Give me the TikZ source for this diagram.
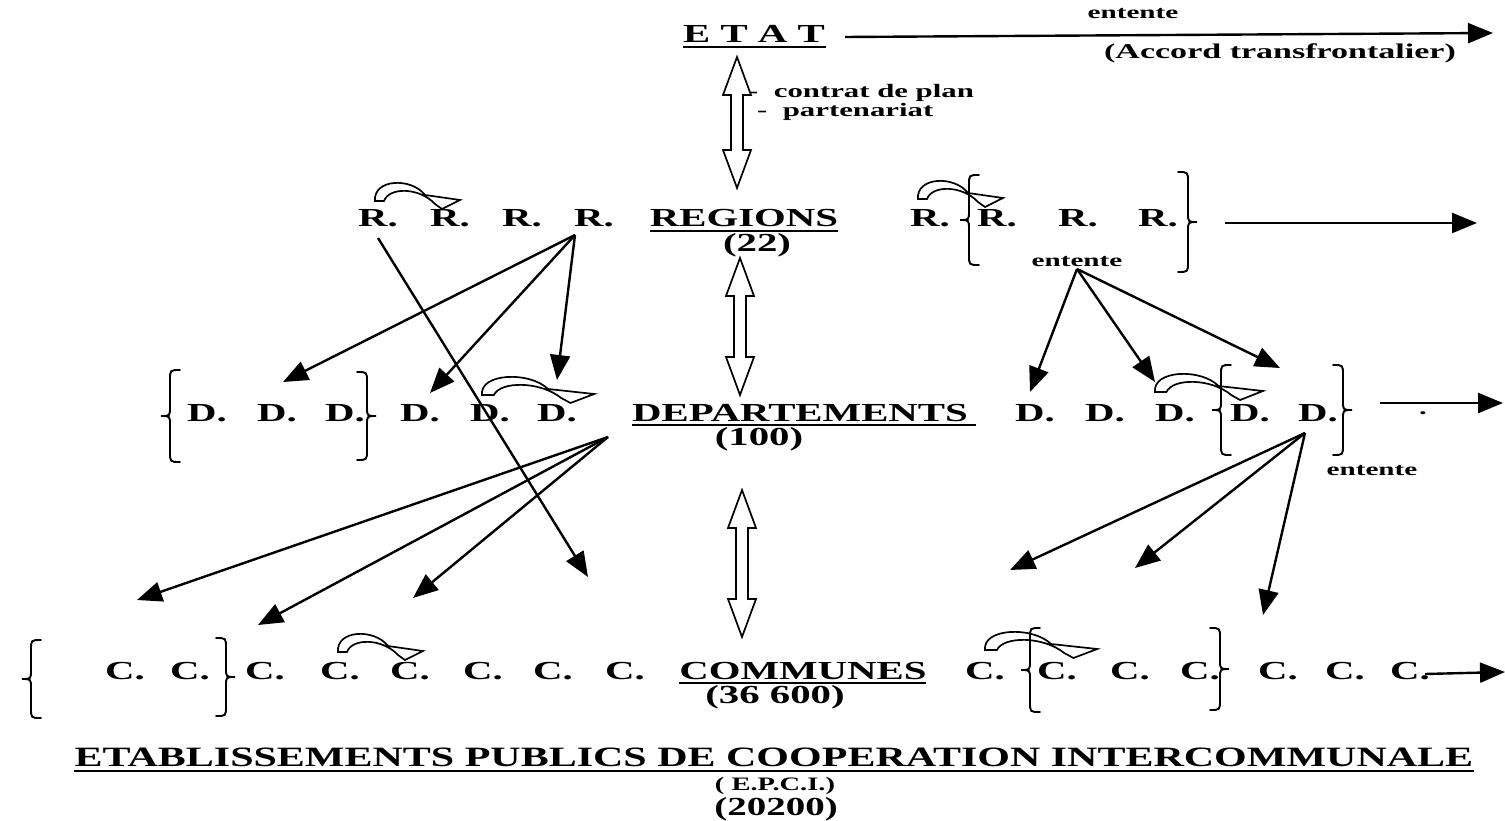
\documentclass[tikz,border=0pt]{standalone}
\usepackage{fontspec}
\setmainfont{Liberation Serif}
\newfontfamily\mainf{Liberation Serif}[FakeStretch=1.57]
\newfontfamily\smallf{Liberation Serif}[FakeStretch=1.62]
\newfontfamily\botf{Liberation Serif}[FakeStretch=1.5]
\usetikzlibrary{arrows.meta}
\tikzset{
  lbl/.style={inner sep=0pt, anchor=base, font=\mainf\bfseries\fontsize{26}{30}\selectfont},
  small/.style={inner sep=0pt, anchor=base, font=\smallf\bfseries\fontsize{19}{22}\selectfont},
  mid/.style={inner sep=0pt, anchor=base, font=\smallf\bfseries\fontsize{21}{24}\selectfont},
  tiny/.style={inner sep=0pt, anchor=base, font=\smallf\bfseries\fontsize{18}{21}\selectfont},
  bot/.style={inner sep=0pt, anchor=base, font=\botf\bfseries\fontsize{28}{32}\selectfont},
  botnum/.style={inner sep=0pt, anchor=base, font=\botf\bfseries\fontsize{26}{30}\selectfont},
  botsmall/.style={inner sep=0pt, anchor=base, font=\botf\bfseries\fontsize{19}{22}\selectfont},
  arr/.style={line width=2.4pt, -{Triangle[length=25pt,width=20pt]}},
  brc/.style={line width=1.9pt, line cap=round},
  ul/.style={line width=1.9pt},
  hollow/.style={line width=1.7pt, fill=white, line join=miter},
}
% hollow double-headed vertical arrow: x, ytop, ybottom
\newcommand\hollowv[3]{%
  \draw[hollow] (#1,#2) -- ({#1+14},{#2+38}) -- ({#1+6},{#2+38}) -- ({#1+6},{#3-38})
    -- ({#1+14},{#3-38}) -- (#1,#3) -- ({#1-14},{#3-38}) -- ({#1-6},{#3-38})
    -- ({#1-6},{#2+38}) -- ({#1-14},{#2+38}) -- cycle;}
% hollow curved arrow: x, y (tail), xscale
\newcommand\curvarr[3]{%
  \begin{scope}[shift={(#1,#2)}, xscale=#3]
    \draw[hollow] (0,0) .. controls (-2,-22) and (36,-24) .. (50,-6) -- (85,-1) -- (67,8) -- (60,3)
      .. controls (44,-14) and (14,-14) .. (9,0) -- cycle;
  \end{scope}}
% tall brace: x of stem, ytop, ybottom, direction (-1 for {, +1 for })
\newcommand\vbrace[4]{%
  \draw[brc] ({#1-(#4)*10},#2) .. controls (#1,#2) .. (#1,{#2+10})
    -- (#1,{(#2+#3)/2-9}) .. controls (#1,{(#2+#3)/2}) .. ({#1+(#4)*9},{(#2+#3)/2})
    .. controls (#1,{(#2+#3)/2}) .. (#1,{(#2+#3)/2+9})
    -- (#1,{#3-10}) .. controls (#1,#3) .. ({#1-(#4)*10},#3);}
\begin{document}
\begin{tikzpicture}[x=1pt,y=-1pt]
\useasboundingbox (0,0) rectangle (1505,821);

% ---------- ETAT ----------
\node[lbl] (etat) at (754,43) {E T A T};
\draw[ul] (683,47) -- (826,47);
\node[tiny] (ent0) at (1133,19) {entente};
\node[mid] (accord) at (1280,59) {(Accord transfrontalier)};
\coordinate (etatS) at (845,37);
\coordinate (etatE) at (1493,33);
\draw[arr] (etatS) -- (etatE);
\node[small, anchor=base west] (cp) at (748,98) {-\ \ contrat de plan};
\node[small, anchor=base west] (pa) at (757,117) {-\ \ partenariat};

% ---------- double arrows ----------
\hollowv{737}{57}{188}
\hollowv{740}{258}{395}
\hollowv{742}{490}{637}

% ---------- curved arrows ----------
\curvarr{375}{201}{1}
\curvarr{918}{199}{1}
\curvarr{482}{395}{1.32}
\curvarr{1155}{392}{1.27}
\curvarr{338}{652}{1}
\curvarr{985}{650}{1.32}

% ---------- REGIONS row ----------
\node[lbl] (r1) at (378,227) {R.};
\node[lbl] (r2) at (450,227) {R.};
\node[lbl] (r3) at (522,227) {R.};
\node[lbl] (r4) at (594,227) {R.};
\node[lbl] (regions) at (744,227) {REGIONS};
\draw[ul] (regions.base west)++(0,4) -- ++(188,0);
\node[lbl, anchor=center] (n22) at (757,245) {(22)};
\node[lbl] (rr0) at (930,227) {R.};
\node[lbl] (rr1) at (997,227) {R.};
\node[lbl] (rr2) at (1078,227) {R.};
\node[lbl] (rr3) at (1158,227) {R.};
\vbrace{969}{175}{265}{-1}
\vbrace{1188}{172}{272}{1}
\coordinate (rrS) at (1225,223);
\coordinate (rrE) at (1477,223);
\draw[arr] (rrS) -- (rrE);
\node[tiny] (ent1) at (1077,266) {entente};

% ---------- DEPARTEMENTS row ----------
\vbrace{170}{370}{462}{-1}
\node[lbl] (d1) at (207,421) {D.};
\node[lbl] (d2) at (277,421) {D.};
\node[lbl] (d3) at (345,421) {D.};
\vbrace{367}{372}{460}{1}
\node[lbl] (d4) at (420,421) {D.};
\node[lbl] (d5) at (490,421) {D.};
\node[lbl] (d6) at (557,421) {D.};
\node[lbl] (dep) at (800,421) {DEPARTEMENTS};
\draw[ul] (dep.base west)++(0,4) -- ++(344,0);
\node[lbl, anchor=center] (n100) at (759,439) {(100)};
\node[lbl] (dr1) at (1035,421) {D.};
\node[lbl] (dr2) at (1105,421) {D.};
\node[lbl] (dr3) at (1175,421) {D.};
\vbrace{1221}{365}{455}{-1}
\node[lbl] (dr4) at (1250,421) {D.};
\node[lbl] (dr5) at (1318,421) {D.};
\vbrace{1343}{365}{455}{1}
\coordinate (drS) at (1380,403);
\coordinate (drE) at (1503,403);
\draw[arr] (drS) -- (drE);
\node[small] (dot) at (1423,414) {.};
\node[tiny] (ent2) at (1372,475) {entente};

% ---------- COMMUNES row ----------
\vbrace{31}{640}{718}{-1}
\node[lbl] (c1) at (125,679) {C.};
\node[lbl] (c2) at (190,679) {C.};
\vbrace{226}{638}{716}{1}
\node[lbl] (c3) at (265,679) {C.};
\node[lbl] (c4) at (340,679) {C.};
\node[lbl] (c5) at (410,679) {C.};
\node[lbl] (c6) at (483,679) {C.};
\node[lbl] (c7) at (553,679) {C.};
\node[lbl] (c8) at (625,679) {C.};
\node[lbl] (com) at (803,679) {COMMUNES};
\draw[ul] (com.base west)++(0,4) -- ++(247,0);
\node[lbl, anchor=center] (n366) at (775,697) {(36 600)};
\node[lbl] (cr1) at (985,679) {C.};
\vbrace{1030}{628}{712}{-1}
\node[lbl] (cr2) at (1057,679) {C.};
\node[lbl] (cr3) at (1130,679) {C.};
\node[lbl] (cr4) at (1200,679) {C.};
\vbrace{1220}{628}{710}{1}
\node[lbl] (cr5) at (1278,679) {C.};
\node[lbl] (cr6) at (1345,679) {C.};
\node[lbl] (cr7) at (1410,679) {C.};
\coordinate (crS) at (1425,674);
\coordinate (crE) at (1505,672);
\draw[arr] (crS) -- (crE);

% ---------- EPCI ----------
\node[bot] (epci) at (774,766) {ETABLISSEMENTS PUBLICS DE COOPERATION INTERCOMMUNALE};
\draw[ul] (epci.base west)++(0,5) -- (epci.base east |- 0,771);
\node[botsmall] (epcis) at (775,790) {( E.P.C.I.)};
\node[botnum] (num) at (776,815) {(20200)};

% ---------- single arrows ----------
\coordinate (sR4) at (575,235);
\coordinate (sR1) at (378,238);
\coordinate (sDep) at (608,437);
\coordinate (sEnt) at (1077,269);
\coordinate (sDr) at (1305,433);
\coordinate (tR4a) at (283,382);
\coordinate (tR4b) at (430,393);
\coordinate (tR4c) at (557,380);
\coordinate (tR1) at (588,577);
\coordinate (tDa) at (137,600);
\coordinate (tDb) at (258,625);
\coordinate (tDc) at (413,598);
\coordinate (tEa) at (1030,392);
\coordinate (tEb) at (1155,382);
\coordinate (tEc) at (1280,368);
\coordinate (tFa) at (1010,570);
\coordinate (tFb) at (1135,568);
\coordinate (tFc) at (1263,615);
\draw[arr] (sR4) -- (tR4a);
\draw[arr] (sR4) -- (tR4b);
\draw[arr] (sR4) -- (tR4c);
\draw[arr] (sR1) -- (tR1);
\draw[arr] (sDep) -- (tDa);
\draw[arr] (sDep) -- (tDb);
\draw[arr] (sDep) -- (tDc);
\draw[arr] (sEnt) -- (tEa);
\draw[arr] (sEnt) -- (tEb);
\draw[arr] (sEnt) -- (tEc);
\draw[arr] (sDr) -- (tFa);
\draw[arr] (sDr) -- (tFb);
\draw[arr] (sDr) -- (tFc);
\end{tikzpicture}
\end{document}
